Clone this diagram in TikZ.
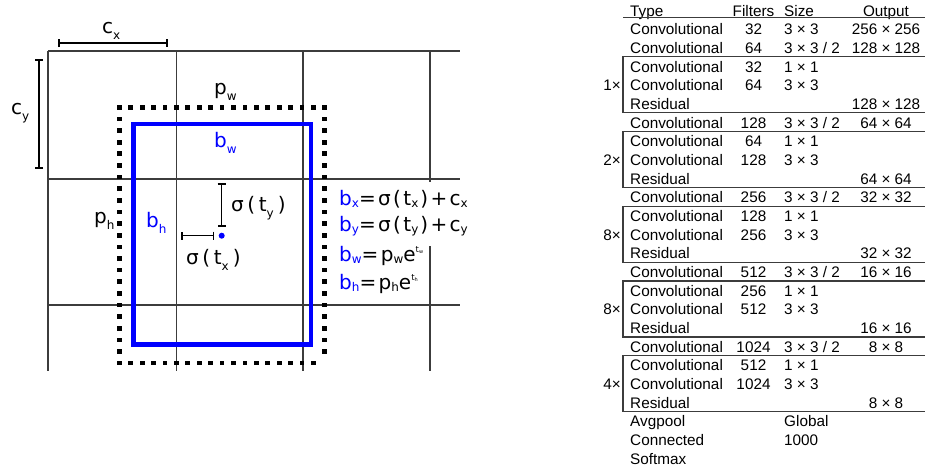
\documentclass[tikz,border=0pt]{standalone}
\usepackage{fontspec}
\usetikzlibrary{arrows.meta}
\setmainfont{Liberation Sans}
\newfontfamily\gridfont[LetterSpace=6]{DejaVu Sans}
\newfontfamily\formfont[LetterSpace=12]{DejaVu Sans}
\newfontfamily\offsetfont[LetterSpace=18]{DejaVu Sans}
\definecolor{BoxBlue}{HTML}{0000FF}
\definecolor{RuleGray}{HTML}{3C3C3C}
% subscripts for the box labels, the formulas and the exponent
\newcommand{\lo}[1]{\raisebox{-0.3em}{\fontsize{12}{12}\selectfont #1}}
\newcommand{\parlo}[1]{\lo{#1}\kern4pt}
\newcommand{\eqlo}[1]{\raisebox{-0.1em}{\fontsize{12}{12}\selectfont #1}}
\newcommand{\expo}[1]{\raisebox{0.45em}{\fontsize{8.5}{8.5}\selectfont t\raisebox{-0.2em}{\fontsize{5}{5}\selectfont #1}}}

\begin{document}
\begin{tikzpicture}[x=1pt,y=-1pt,
    gridline/.style={draw=RuleGray,line width=1.3pt},
    dimbar/.style={{Bar[width=8pt]}-{Bar[width=8pt]},line width=1.7pt},
    anchorside/.style={line width=4.7pt,line cap=rect,dash pattern=on 0.01pt off #1},
    predbox/.style={draw=BoxBlue,line width=4.7pt},
    lbl/.style={anchor=base west,inner sep=0pt,font=\gridfont\fontsize{20}{24}\selectfont},
    offlbl/.style={lbl,font=\offsetfont\fontsize{20}{24}\selectfont},
    formula/.style={lbl,font=\formfont\fontsize{20}{24}\selectfont},
    cell/.style={anchor=base west,inner sep=0pt,font=\fontsize{15.3}{18}\selectfont},
    numcell/.style={cell,anchor=base},
    tabrule/.style={draw=RuleGray,line width=1.3pt}]
  \useasboundingbox (0,0) rectangle (925,466);

  % grid cells
  \foreach \gx in {48,176.7,303,430} \draw[gridline] (\gx,51) -- (\gx,371);
  \foreach \gy in {51,179,305} \draw[gridline] (48,\gy) -- (460,\gy);
  \draw[dimbar] (58,43) -- (168,43);
  \draw[dimbar] (39,59) -- (39,169);

  % prior and predicted box
  \draw[anchorside=11.41pt] (119.3,107.3) -- (324.7,107.3);
  \draw[anchorside=11.41pt] (119.3,363) -- (324.7,363);
  \draw[anchorside=11.62pt] (119.3,107.3) -- (119.3,363);
  \draw[anchorside=11.62pt] (324.7,107.3) -- (324.7,363);
  \draw[predbox] (133.3,124) rectangle (311,344.7);

  \node[circle,fill=BoxBlue,inner sep=0pt,minimum size=6pt] (ctr) at (221.7,235.7) {};
  \coordinate (ty) at (221.7,183.3);
  \coordinate (tx) at (181,235.7);
  \draw[dimbar,line width=1.5pt] (ty) -- ([yshift=9pt]ctr.center);
  \draw[dimbar,line width=1.5pt] (tx) -- ([xshift=-7.7pt]ctr.center);

  \node[lbl] (cxlab) at (102,33) {c\lo{x}};
  \node[lbl] (cylab) at (11,114) {c\lo{y}};
  \node[lbl] (pwlab) at (214,94) {p\lo{w}};
  \node[lbl,text=BoxBlue] (bwlab) at (214,147) {b\lo{w}};
  \node[lbl] (phlab) at (94,223) {p\lo{h}};
  \node[lbl,text=BoxBlue] (bhlab) at (146,227) {b\lo{h}};
  \node[offlbl] (tylab) at (231,211.7) {σ(t\parlo{y})};
  \node[offlbl] (txlab) at (186,264) {σ(t\parlo{x})};

  % formulas
  \node[formula,fill=white,inner ysep=3pt,text height=20pt,text depth=6pt] (fbx) at (339,205)
    {\textcolor{BoxBlue}{b\eqlo{x}}=σ(t\eqlo{x}\kern2pt)+c\eqlo{x}};
  \node[formula,fill=white,inner ysep=3pt,text depth=12pt] (fby) at (339,231)
    {\textcolor{BoxBlue}{b\eqlo{y}}=σ(t\eqlo{y}\kern2pt)+c\eqlo{y}};
  \node[formula] (fbw) at (339,261) {\textcolor{BoxBlue}{b\eqlo{w}}=p\eqlo{w}e\expo{w}};
  \node[formula] (fbh) at (339,289) {\textcolor{BoxBlue}{b\eqlo{h}}=p\eqlo{h}e\expo{h}};

  % layer table
  \foreach \k/\kind/\filt/\size/\outp in {
      0/Type/Filters/Size/Output,
      1/Convolutional/32/3 × 3/256 × 256,
      2/Convolutional/64/3 × 3 \slash{} 2/128 × 128,
      3/Convolutional/32/1 × 1/{},
      4/Convolutional/64/3 × 3/{},
      5/Residual/{}/{}/128 × 128,
      6/Convolutional/128/3 × 3 \slash{} 2/64 × 64,
      7/Convolutional/64/1 × 1/{},
      8/Convolutional/128/3 × 3/{},
      9/Residual/{}/{}/64 × 64,
      10/Convolutional/256/3 × 3 \slash{} 2/32 × 32,
      11/Convolutional/128/1 × 1/{},
      12/Convolutional/256/3 × 3/{},
      13/Residual/{}/{}/32 × 32,
      14/Convolutional/512/3 × 3 \slash{} 2/16 × 16,
      15/Convolutional/256/1 × 1/{},
      16/Convolutional/512/3 × 3/{},
      17/Residual/{}/{}/16 × 16,
      18/Convolutional/1024/3 × 3 \slash{} 2/8 × 8,
      19/Convolutional/512/1 × 1/{},
      20/Convolutional/1024/3 × 3/{},
      21/Residual/{}/{}/8 × 8,
      22/Avgpool/{}/Global/{},
      23/Connected/{}/1000/{},
      24/Softmax/{}/{}/{}}
  {
    \node[cell] (kind\k) at (630,{16+18.68*\k}) {\kind};
    \node[numcell] (filt\k) at (753.5,{16+18.68*\k}) {\filt};
    \node[cell] (size\k) at (784,{16+18.68*\k}) {\size};
    \node[numcell] (outp\k) at (886,{16+18.68*\k}) {\outp};
  }
  \draw[tabrule] (623,17.5) -- (925,17.5);
  \foreach \j/\m in {0/1,1/2,2/8,3/8,4/4}{
    \node[cell,anchor=base east] (mult\j) at (621,{16+18.68*(4+4*\j)}) {\m×};
    \draw[tabrule] (925,{19.4+18.68*(2+4*\j)}) -- (623,{19.4+18.68*(2+4*\j)})
      -- (623,{19.4+18.68*(5+4*\j)}) -- (925,{19.4+18.68*(5+4*\j)});
  }
\end{tikzpicture}
\end{document}
